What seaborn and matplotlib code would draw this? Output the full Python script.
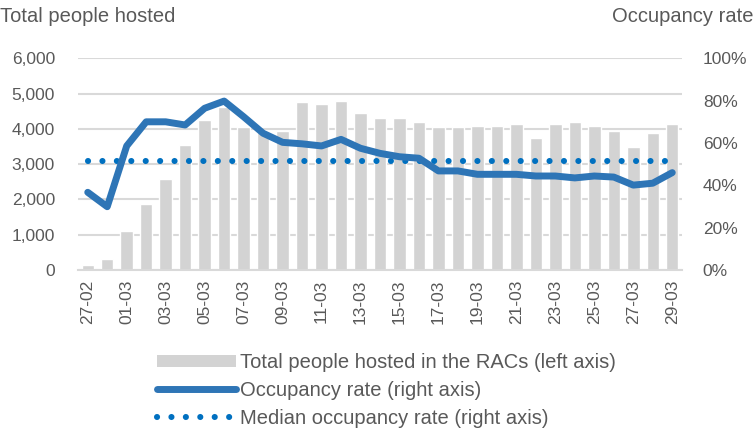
import numpy as np
import pandas as pd
import matplotlib
matplotlib.use("Agg")
import matplotlib.pyplot as plt
import seaborn as sns
from matplotlib.ticker import FuncFormatter
from matplotlib.patches import Patch
from matplotlib.lines import Line2D

dates = ["27-02", "28-02"] + [f"{d:02d}-03" for d in range(1, 30)]
people_hosted = [140, 300, 1110, 1880, 2590, 3540, 4250, 4630, 4040, 3900,
                 3950, 4760, 4700, 4800, 4450, 4300, 4300, 4190, 4040, 4040,
                 4090, 4090, 4140, 3730, 4140, 4190, 4090, 3950, 3480, 3890,
                 4140]
occupancy_rate = [36.7, 29.9, 58.6, 70.0, 70.0, 68.5, 76.4, 79.8, 72.4, 64.6,
                  60.3, 59.6, 58.6, 61.7, 57.5, 55.1, 53.5, 52.8, 46.8, 46.8,
                  45.2, 45.2, 45.2, 44.4, 44.4, 43.5, 44.4, 43.9, 40.1, 41.0,
                  46.0]
median_rate = 51.5

left_ticks = [0, 1000, 2000, 3000, 4000, 5000, 6000]
right_ticks = [0, 20, 40, 60, 80, 100]

sns.set_theme(style="white")
plt.rcParams['font.family'] = ['Liberation Sans', 'DejaVu Sans']
plt.rcParams['ytick.major.pad'] = 15
plt.rcParams['xtick.major.pad'] = 7

TXT = "#595959"
BAR = "#D3D3D3"
LINE = "#2E75B6"
MED = "#0070C0"
GRID = "#D9D9D9"
FS = 12.5
FS2 = 14.5

df = pd.DataFrame({"date": dates, "people": people_hosted,
                   "rate": occupancy_rate, "pos": np.arange(len(dates)),
                   "median": [median_rate] * len(dates)})

fig = plt.figure(figsize=(7.54, 4.32), dpi=100)
ax = fig.add_axes([78 / 754, 1 - 270 / 432, (682 - 78) / 754, (270 - 58.3) / 432])

sns.barplot(data=df, x="date", y="people", color=BAR, saturation=1,
            width=0.64, ax=ax, zorder=2)
ax.set_ylim(0, 6000)
ax.set_xlim(-0.5, len(dates) - 0.5)
ax.set_yticks(left_ticks)
ax.yaxis.set_major_formatter(FuncFormatter(lambda v, p: f"{int(v):,}"))
ax.grid(axis="y", color=GRID, linewidth=1.5, zorder=0)
ax.set_axisbelow(True)
ax.set_xlabel("")
ax.set_ylabel("")
ax.set_xticks(np.arange(0, len(dates), 2))
ax.set_xticklabels(dates[::2], rotation=90)
for s in ["top", "right", "left"]:
    ax.spines[s].set_visible(False)
ax.spines["bottom"].set_color(GRID)
ax.spines["bottom"].set_linewidth(1.5)
ax.tick_params(axis="both", length=0, labelsize=FS, labelcolor=TXT)
ax.tick_params(axis="y", pad=16.5)
ax.tick_params(axis="x", pad=7)

ax2 = ax.twinx()
sns.lineplot(data=df, x="pos", y="rate", color=LINE, linewidth=5,
             ax=ax2, solid_capstyle="round", solid_joinstyle="round", zorder=4)
sns.lineplot(data=df, x="pos", y="median", color=MED, linewidth=4.4,
             ax=ax2, zorder=3, dashes=False)
ax2.lines[-1].set_dashes((0.01, 2.35))
ax2.lines[-1].set_dash_capstyle("round")
ax2.set_ylim(0, 100)
ax2.set_yticks(right_ticks)
ax2.yaxis.set_major_formatter(FuncFormatter(lambda v, p: f"{int(v)}%"))
ax2.set_xlim(-0.5, len(dates) - 0.5)
ax2.set_xlabel("")
ax2.set_ylabel("")
for s in ["top", "right", "left", "bottom"]:
    ax2.spines[s].set_visible(False)
ax2.tick_params(axis="both", length=0, labelsize=FS, labelcolor=TXT)
ax2.yaxis.set_tick_params(which="both", pad=15)

fig.text(0.0, 1 - 17 / 432, "Total people hosted", fontsize=FS2, color=TXT,
         ha="left", va="center")
fig.text(1.0, 1 - 17 / 432, "Occupancy rate", fontsize=FS2, color=TXT,
         ha="right", va="center")

h_bar = Patch(facecolor=BAR, edgecolor="none")
h_line = Line2D([], [], color=LINE, linewidth=5, solid_capstyle="round")
h_med = Line2D([], [], color=MED, linewidth=4.4, dash_capstyle="round")
h_med.set_dashes((0.01, 2.35))
leg = fig.legend([h_bar, h_line, h_med],
                 ["Total people hosted in the RACs (left axis)",
                  "Occupancy rate (right axis)",
                  "Median occupancy rate (right axis)"],
                 loc="upper left", bbox_to_anchor=(157 / 754, 1 - 353 / 432),
                 frameon=False, fontsize=FS2, handlelength=3.9,
                 handleheight=0.6, handletextpad=0.2, labelspacing=0.45,
                 borderpad=0, borderaxespad=0)
for t in leg.get_texts():
    t.set_color(TXT)

fig.savefig("out.png", dpi=100)
